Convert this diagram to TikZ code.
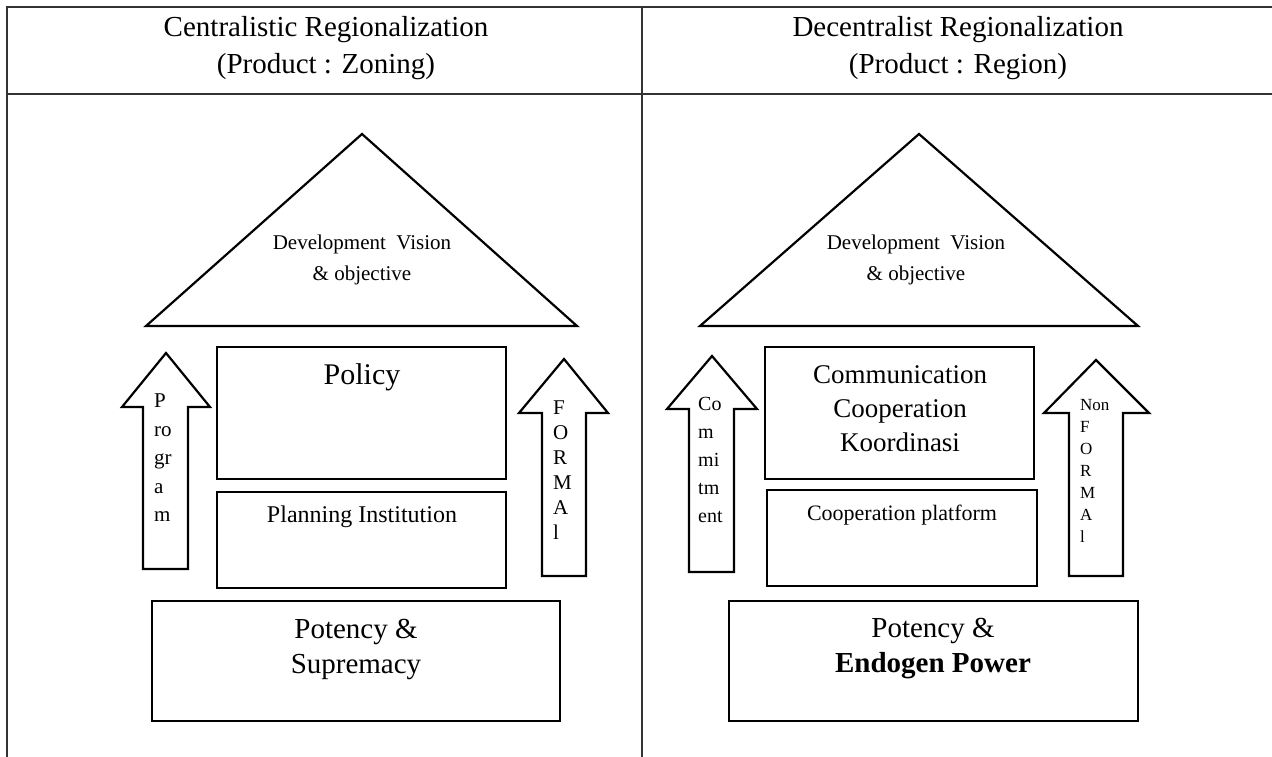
\documentclass[tikz,border=0pt]{standalone}
\usepackage{fontspec}
\setmainfont{Liberation Serif}
\usepackage{tikz}
\usetikzlibrary{calc}

\begin{document}
\begin{tikzpicture}[x=1pt,y=-1pt,
		grid line/.style={draw=black!80, line width=1.6pt},
		outline/.style={draw=black, line width=2.2pt, line join=miter},
		letters/.style={align=left, inner sep=0pt, anchor=west}]
			\useasboundingbox (0,0) rectangle (1272,757);
			% table
			\draw[grid line] (1272,7) -- (7,7) -- (7,757);
			\draw[grid line] (7,94) -- (1272,94);
			\draw[grid line] (642,7) -- (642,757);
			\node[align=center, font=\fontsize{29}{37}\selectfont] (headleft) at (326,48) {Centralistic Regionalization\\(Product : Zoning)};
			\node[align=center, font=\fontsize{29}{37}\selectfont] (headright) at (958,48) {Decentralist Regionalization\\(Product : Region)};
			% left column
			\draw[outline] (146,326) -- (362,134) -- (577,326) -- cycle;
			\node[align=center, font=\fontsize{21}{31}\selectfont] (visionleft) at (362,260) {Development\ \ Vision\\\& objective};
			\draw[outline] (217,347) rectangle (506,479);
			\node[font=\fontsize{30}{34}\selectfont] (policy) at (362,377) {Policy};
			\draw[outline] (217,492) rectangle (506,588);
			\node[font=\fontsize{24}{28}\selectfont] (planning) at (362,517) {Planning Institution};
			\draw[outline] (166,353) -- (210,407) -- (188,407) -- (188,569) -- (143,569) -- (143,407) -- (122,407) -- cycle;
			\node[letters, font=\fontsize{21}{28.5}\selectfont] (program) at (154,458) {P\\ro\\gr\\a\\m};
			\draw[outline] (564,359) -- (608,413) -- (586,413) -- (586,576) -- (542,576) -- (542,413) -- (519,413) -- cycle;
			\node[letters, font=\fontsize{21}{25}\selectfont] (formal) at (553,470) {F\\O\\R\\M\\A\\l};
			\draw[outline] (152,601) rectangle (560,721);
			\node[align=center, font=\fontsize{29}{35}\selectfont] (potencyleft) at (356,649) {Potency \&\\Supremacy};
			% right column
			\draw[outline] (700,326) -- (919,134) -- (1138,326) -- cycle;
			\node[align=center, font=\fontsize{21}{31}\selectfont] (visionright) at (916,260) {Development\ \ Vision\\\& objective};
			\draw[outline] (765,347) rectangle (1034,479);
			\node[align=center, font=\fontsize{27}{34}\selectfont] (communication) at (900,409) {Communication\\Cooperation\\Koordinasi};
			\draw[outline] (767,490) rectangle (1037,586);
			\node[font=\fontsize{22}{26}\selectfont] (platform) at (902,515) {Cooperation platform};
			\draw[outline] (712,356) -- (757,409) -- (734,409) -- (734,572) -- (689,572) -- (689,409) -- (667,409) -- cycle;
			\node[letters, font=\fontsize{20}{28}\selectfont] (commitment) at (698,460) {Co\\m\\mi\\tm\\ent};
			\draw[outline] (1096,360) -- (1149,413) -- (1123,413) -- (1123,576) -- (1069,576) -- (1069,413) -- (1044,413) -- cycle;
			\node[letters, font=\fontsize{17}{22}\selectfont] (nonformal) at (1080,471) {Non\\F\\O\\R\\M\\A\\l};
			\draw[outline] (729,601) rectangle (1138,721);
			\node[align=center, font=\fontsize{29}{35}\selectfont] (potencyright) at (933,649) {Potency \&\\\textbf{Endogen Power}};
		\end{tikzpicture}
\end{document}
